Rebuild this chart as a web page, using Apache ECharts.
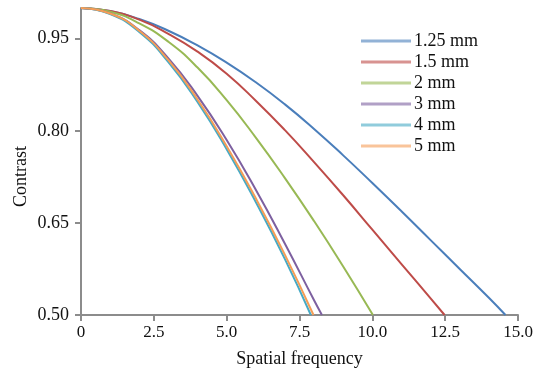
<!DOCTYPE html>
<html>
<head>
<meta charset="utf-8">
<script src="https://cdn.jsdelivr.net/npm/echarts@6/dist/echarts.min.js"></script>
<style>html,body{margin:0;padding:0;background:#fff}#c{width:541px;height:373px}</style>
</head>
<body>
<div id="c"></div>
<script>
var seriesNames = ['1.25 mm', '1.5 mm', '2 mm', '3 mm', '4 mm', '5 mm'];
var colors = ['#4a7ebb', '#be4b48', '#98b954', '#7d60a0', '#46aac5', '#f59d56'];

var freq125 = [0, 1, 2, 3, 4, 5, 6, 7, 8, 9, 10, 11, 12, 13, 14, 14.57];
var val125  = [1.000, 0.995, 0.982, 0.963, 0.939, 0.911, 0.879, 0.843, 0.803, 0.760, 0.715, 0.669, 0.622, 0.575, 0.528, 0.500];

var freq15 = [0, 1, 2, 3, 4, 5, 6, 7, 8, 9, 10, 11, 12, 12.48];
var val15  = [1.000, 0.995, 0.981, 0.958, 0.929, 0.893, 0.849, 0.801, 0.749, 0.695, 0.639, 0.583, 0.527, 0.500];

var freq2 = [0, 1, 2, 3, 4, 5, 6, 7, 8, 9, 10.02];
var val2  = [1.000, 0.994, 0.975, 0.945, 0.903, 0.850, 0.789, 0.723, 0.653, 0.579, 0.500];

var freq3 = [0, 1, 2, 3, 4, 5, 6, 7, 8, 8.27];
var val3  = [1.000, 0.991, 0.964, 0.918, 0.857, 0.785, 0.704, 0.616, 0.524, 0.500];

var freq4 = [0, 1, 2, 3, 4, 5, 6, 7, 7.89];
var val4  = [1.000, 0.990, 0.961, 0.912, 0.847, 0.770, 0.684, 0.591, 0.500];

var freq5 = [0, 1, 2, 3, 4, 5, 6, 7, 7.98];
var val5  = [1.000, 0.991, 0.963, 0.915, 0.851, 0.775, 0.690, 0.598, 0.500];

var xTicks = [0, 2.5, 5, 7.5, 10, 12.5, 15];
var yTicks = [0.50, 0.65, 0.80, 0.95];

var allFreq = [freq125, freq15, freq2, freq3, freq4, freq5];
var allVal = [val125, val15, val2, val3, val4, val5];

function pairs(xs, ys) { return xs.map(function (x, i) { return [x, ys[i]]; }); }

var font = 'Liberation Serif';
var axisColor = '#8c8c8c';

var chart = echarts.init(document.getElementById('c'), null, { renderer: 'canvas' });
chart.setOption({
  animation: false,
  backgroundColor: '#fff',
  color: colors,
  grid: { left: 81, right: 23, top: 8, bottom: 58, containLabel: false },
  legend: {
    orient: 'vertical',
    left: 356,
    top: 27,
    icon: 'rect',
    itemWidth: 50,
    itemHeight: 3,
    itemGap: 3,
    data: seriesNames,
    itemStyle: { opacity: 0.6 },
    textStyle: { fontFamily: font, fontSize: 18, color: '#111', padding: [0, 0, 0, -2] }
  },
  xAxis: {
    type: 'value',
    min: 0, max: 15, interval: 2.5,
    name: 'Spatial frequency',
    nameLocation: 'middle',
    nameGap: 35,
    nameTextStyle: { fontFamily: font, fontSize: 18, color: '#111' },
    axisLine: { show: true, onZero: false, lineStyle: { color: axisColor, width: 2 } },
    axisTick: { show: true, inside: false, length: 6, lineStyle: { color: axisColor, width: 2 } },
    splitLine: { show: false },
    axisLabel: {
      fontFamily: font, fontSize: 17, color: '#111', margin: 9,
      customValues: xTicks,
      formatter: function (v) { return v === 0 ? '0' : v.toFixed(1); }
    }
  },
  yAxis: {
    type: 'value',
    min: 0.5, max: 1.0,
    name: 'Contrast',
    nameLocation: 'middle',
    nameGap: 51,
    nameMoveOverlap: false,
    nameTextStyle: { fontFamily: font, fontSize: 18, color: '#111', padding: [0, 30, 0, 0] },
    axisLine: { show: true, lineStyle: { color: axisColor, width: 2 } },
    axisTick: { show: true, inside: false, length: 6, customValues: yTicks, lineStyle: { color: axisColor, width: 2 } },
    splitLine: { show: false },
    axisLabel: {
      fontFamily: font, fontSize: 18, color: '#111', margin: 12,
      customValues: yTicks,
      formatter: function (v) { return v.toFixed(2); }
    }
  },
  series: seriesNames.map(function (n, i) {
    return {
      name: n,
      type: 'line',
      symbol: 'none',
      smooth: 0.5,
      lineStyle: { width: 2, color: colors[i] },
      itemStyle: { color: colors[i] },
      data: pairs(allFreq[i], allVal[i])
    };
  })
});
</script>
</body>
</html>
